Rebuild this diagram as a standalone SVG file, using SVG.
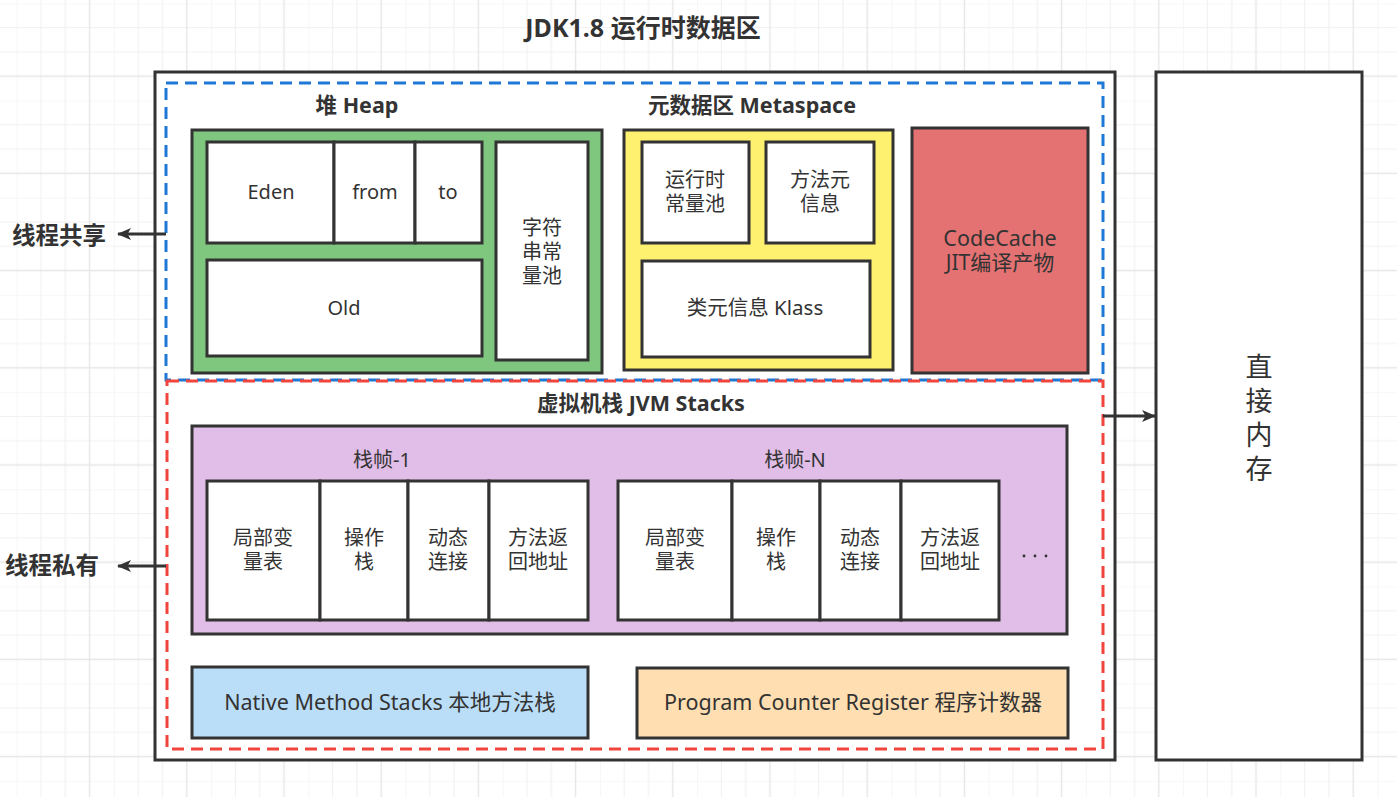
<svg xmlns="http://www.w3.org/2000/svg" width="1397" height="797" viewBox="0 0 1397 797">
<defs>
<pattern id="grid" x="16.7" y="3.3" width="97.2" height="97.2" patternUnits="userSpaceOnUse">
<path d="M0 0V97.2M24.3 0V97.2M48.6 0V97.2M0 0H97.2M0 24.3H97.2M0 48.6H97.2" stroke="#f1f1f1" stroke-width="1.2" fill="none"/>
<path d="M72.9 0V97.2M0 72.9H97.2" stroke="#e6e6e6" stroke-width="1.4" fill="none"/>
</pattern>
<marker id="arr" viewBox="0 0 14 12" refX="13" refY="6" markerWidth="14" markerHeight="12" markerUnits="userSpaceOnUse" orient="auto">
<path d="M0 0L14 6L0 12L3.5 6Z" fill="#333"/>
</marker>
</defs>
<style>
.b{stroke:#333;stroke-width:3;}
.w{fill:#fff;}
.t{font-family:"Noto Sans","Noto Sans CJK SC",sans-serif;font-size:20px;fill:#333;text-anchor:middle;}
.l{font-size:21.5px;}
.h{font-family:"Noto Sans","Noto Sans CJK SC",sans-serif;font-size:21.5px;font-weight:bold;fill:#333;text-anchor:middle;}
.side{font-family:"Noto Sans CJK SC",sans-serif;font-size:23.5px;font-weight:bold;fill:#333;}
.c{stroke:#333;stroke-width:3;fill:none;}
</style>
<rect width="1397" height="797" fill="#fff"/>
<rect width="1397" height="797" fill="url(#grid)"/>

<text class="h" x="643" y="37" style="font-size:25px">JDK1.8 运行时数据区</text>

<g id="runtime">
<rect class="b w" x="155" y="72" width="960" height="688"/>
</g>
<g id="direct-memory">
<rect class="b w" x="1156" y="72" width="206" height="688"/>
<text class="t" style="font-size:27px"><tspan x="1259" y="377">直</tspan><tspan x="1259" y="411">接</tspan><tspan x="1259" y="445">内</tspan><tspan x="1259" y="479">存</tspan></text>
</g>

<g id="shared-area">
<rect x="166" y="83" width="937" height="297" fill="none" stroke="#1e78d6" stroke-width="3" stroke-dasharray="12 7"/>
</g>
<g id="private-area">
<rect x="167" y="381" width="936" height="368" fill="none" stroke="#f0443c" stroke-width="3" stroke-dasharray="12 7"/>
</g>

<g id="heap">
<text class="h" x="357" y="113">堆 Heap</text>
<rect class="b" x="192" y="130" width="410" height="243" fill="#7fc67f"/>
<rect class="b w" x="207" y="142" width="127" height="101"/>
<text class="t" x="271" y="199">Eden</text>
<rect class="b w" x="334" y="142" width="81" height="101"/>
<text class="t" x="375" y="199">from</text>
<rect class="b w" x="415" y="142" width="67" height="101"/>
<text class="t" x="448" y="199">to</text>
<rect class="b w" x="207" y="260" width="275" height="96"/>
<text class="t" x="344" y="315">Old</text>
<rect class="b w" x="496" y="142" width="92" height="218"/>
<text class="t"><tspan x="542" y="235">字符</tspan><tspan x="542" y="259">串常</tspan><tspan x="542" y="283">量池</tspan></text>
</g>

<g id="metaspace">
<text class="h" x="752" y="113">元数据区 Metaspace</text>
<rect class="b" x="624" y="130" width="269" height="240" fill="#fff170"/>
<rect class="b w" x="642" y="142" width="107" height="101"/>
<text class="t"><tspan x="695" y="187">运行时</tspan><tspan x="695" y="211">常量池</tspan></text>
<rect class="b w" x="766" y="142" width="108" height="101"/>
<text class="t"><tspan x="820" y="187">方法元</tspan><tspan x="820" y="211">信息</tspan></text>
<rect class="b w" x="642" y="261" width="228" height="96"/>
<text class="t" x="755" y="315" style="font-size:20.5px">类元信息 Klass</text>
</g>

<g id="codecache">
<rect class="b" x="912" y="128" width="176" height="245" fill="#e47272"/>
<text class="t"><tspan class="l" x="1000" y="246">CodeCache</tspan><tspan x="1000" y="270" style="font-size:21px">JIT编译产物</tspan></text>
</g>

<g id="jvm-stacks">
<text class="h" x="641" y="411">虚拟机栈 JVM Stacks</text>
<rect class="b" x="192" y="426" width="875" height="208" fill="#e1bee7"/>
<text class="t" x="382" y="467">栈帧-1</text>
<text class="t" x="795" y="467">栈帧-N</text>
<circle cx="1024" cy="556" r="1.4" fill="#333"/>
<circle cx="1035" cy="556" r="1.4" fill="#333"/>
<circle cx="1046" cy="556" r="1.4" fill="#333"/>
</g>

<g id="frame-1">
<rect class="b w" x="207" y="481" width="113" height="139"/>
<text class="t"><tspan x="263" y="545">局部变</tspan><tspan x="263" y="569">量表</tspan></text>
<rect class="b w" x="320" y="481" width="88" height="139"/>
<text class="t"><tspan x="364" y="545">操作</tspan><tspan x="364" y="569">栈</tspan></text>
<rect class="b w" x="408" y="481" width="81" height="139"/>
<text class="t"><tspan x="448" y="545">动态</tspan><tspan x="448" y="569">连接</tspan></text>
<rect class="b w" x="489" y="481" width="99" height="139"/>
<text class="t"><tspan x="538" y="545">方法返</tspan><tspan x="538" y="569">回地址</tspan></text>
</g>

<g id="frame-n">
<rect class="b w" x="618" y="481" width="114" height="139"/>
<text class="t"><tspan x="675" y="545">局部变</tspan><tspan x="675" y="569">量表</tspan></text>
<rect class="b w" x="732" y="481" width="88" height="139"/>
<text class="t"><tspan x="776" y="545">操作</tspan><tspan x="776" y="569">栈</tspan></text>
<rect class="b w" x="820" y="481" width="81" height="139"/>
<text class="t"><tspan x="860" y="545">动态</tspan><tspan x="860" y="569">连接</tspan></text>
<rect class="b w" x="901" y="481" width="98" height="139"/>
<text class="t"><tspan x="950" y="545">方法返</tspan><tspan x="950" y="569">回地址</tspan></text>
</g>

<g id="native-stacks">
<rect class="b" x="192" y="667" width="396" height="71" fill="#bbdef8"/>
<text class="t l" x="390" y="710">Native Method Stacks 本地方法栈</text>
</g>
<g id="pc-register">
<rect class="b" x="637" y="668" width="431" height="70" fill="#ffdfb1"/>
<text class="t l" x="853" y="710">Program Counter Register 程序计数器</text>
</g>

<g id="label-shared"><text class="side" x="12" y="244">线程共享</text></g>
<g id="label-private"><text class="side" x="5" y="574">线程私有</text></g>

<g id="connectors">
<line class="c" x1="166" y1="234" x2="118" y2="234" marker-end="url(#arr)"/>
<line class="c" x1="166" y1="566" x2="118" y2="566" marker-end="url(#arr)"/>
<line class="c" x1="1103" y1="416" x2="1155" y2="416" marker-end="url(#arr)"/>
</g>
</svg>
